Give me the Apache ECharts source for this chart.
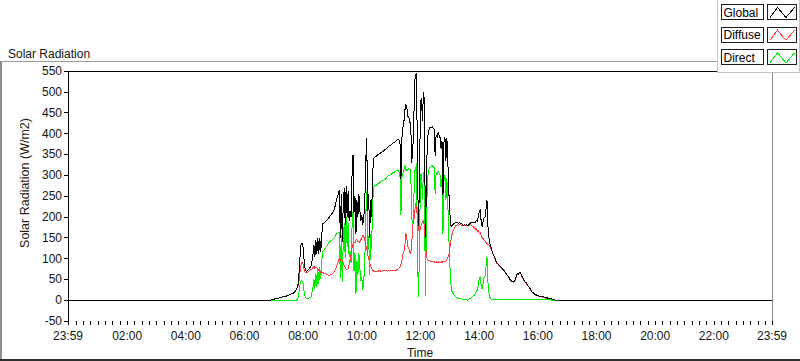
<!DOCTYPE html>
<html><head><meta charset="utf-8">
<script src="https://cdn.jsdelivr.net/npm/echarts@6/dist/echarts.min.js"></script>
<style>html,body{margin:0;padding:0;background:#fff;}#c{width:800px;height:361px;}
#c svg path, #c svg polyline, #c svg rect, #c svg line { shape-rendering: crispEdges; }</style>
</head><body><div id="c"></div>
<script>
const FONT = 'Liberation Sans';
const chartTitle = 'Solar Radiation';
const yAxisName = 'Solar Radiation (W/m2)';
const xAxisName = 'Time';
const seriesNames = ['Global', 'Diffuse', 'Direct'];
const seriesColors = ['#000000', '#ff3c3c', '#00ee00'];
// minutes since midnight; -1 = 23:59 of previous day
const dayStart = -1, dayEnd = 1439;
const nightValue = 0;
const yMin = -50, yMax = 550, yStep = 50;
const xLabelTimes = [-1, 120, 240, 360, 480, 600, 720, 840, 960, 1080, 1200, 1320, 1439];
// samples every 2 minutes from 06:50 to 16:50
const sampleStart = 410, sampleStep = 2;

const globalValues = [
0,0,0,1,1, 2,3,3,4,5, 5,6,7,7,8, 8,9,10,10,11, 12,13,14,15,16, 17,19,22,26,31,
40,74,112,136,138, 125,94,76,70,70, 72,75,78,82,93, 108,132,104,144,110, 149,112,150,116,155,
184,185,187,189,191, 194,197,200,203,206, 210,214,220,228,240, 248,256,264,150,255,
140,230,268,180,275, 200,262,190,215,200, 300,348,210,250,160, 240,200,255,215,190,
205,180,200,230,330, 388,215,255,150,240, 200,300,340,342,344, 346,348,350,352,353,
355,356,358,360,362, 363,366,368,370,371, 373,375,377,378,380, 382,384,386,385,380,
290,390,415,427,455, 470,464,440,441,427, 426,330,356,410,522, 542,545,296,178,290,
475,484,430,500,478, 150,265,388,400,413, 414,415,416,413,410, 347,397,390,402,396,
390,364,381,252,379, 392,334,390,330,260, 210,180,177,181,184, 185,186,186,186,184,
186,184,183,182,180, 181,179,181,180,180, 183,185,186,186,186, 186,186,192,189,200,
210,218,191,176,188, 198,200,218,240,176, 150,135,128,120,112, 108,102,95,90,88,
85,82,80,78,75, 72,70,66,62,60, 57,52,48,46,45, 44,45,50,58,64,
62,66,68,62,56, 52,48,44,42,38, 34,32,28,24,20, 18,16,14,13,12,
11,10,10,9,9, 8,8,7,6,6, 5,5,4,4,3, 2,2,1,0,0, 0,0,0,0,0, 0
];

const diffuseValues = [
0,0,0,1,1, 2,3,3,4,5, 5,6,7,7,8, 8,9,10,10,11, 12,13,14,15,16, 17,19,22,26,31,
34,50,72,88,92, 85,74,68,65,66, 68,70,72,74,75, 78,82,76,80,78, 74,72,70,66,65,
66,65,64,63,62, 61,60,60,61,62, 64,66,70,74,80, 88,94,100,96,98,
96,90,84,78,74, 72,76,86,96,110, 125,136,140,138,144, 145,140,142,138,145,
150,156,152,145,130, 125,110,100,90,82, 76,72,70,68,68, 70,69,70,71,70,
69,70,71,70,72, 71,70,70,71,70, 72,71,70,72,71, 72,73,75,77,80,
85,95,110,115,130, 160,150,128,125,115, 112,130,180,186,210, 232,215,200,170,160,
175,180,188,192,178, 140,105,98,96,95, 94,93,92,93,92, 91,92,90,92,91,
90,92,91,92,94, 92,94,98,102,108, 125,140,155,165,170, 175,178,180,181,180,
182,181,180,179,178, 179,178,180,178,179, 180,181,180,178,176, 174,170,172,165,168,
160,162,155,150,148, 144,142,138,136,134, 132,128,125,118,112, 108,101,94,89,87,
84,81,79,77,74, 71,69,65,61,59, 56,51,47,45,44, 43,44,49,57,63,
61,65,67,61,55, 51,47,43,41,37, 33,31,27,23,19, 17,15,13,12,11,
10,9,9,8,8, 7,7,6,5,5, 4,4,3,3,2, 2,1,1,0,0, 0,0,0,0,0, 0
];

const directValues = [
0,0,0,0,0, 0,0,0,0,0, 0,0,0,0,0, 0,0,0,0,0, 0,0,0,0,0, 0,0,0,0,2,
6,24,40,48,46, 40,20,8,5,4, 4,5,6,8,18, 30,50,28,64,32, 75,40,80,50,90,
118,120,123,126,129, 133,137,140,142,144, 146,148,150,154,160, 160,162,164,54,157,
44,140,184,102,200, 128,186,104,119,90, 175,212,70,112,16, 95,60,113,77,45,
55,24,48,85,200, 262,105,155,60,158, 124,228,270,274,276, 276,279,280,281,283,
286,286,287,290,290, 292,296,298,299,301, 301,304,307,306,309, 310,311,311,308,300,
205,296,305,312,325, 310,314,312,316,312, 314,200,176,224,312, 310,330,96,8,130,
300,304,242,308,300, 10,160,290,304,318, 320,322,324,320,318, 256,305,300,310,305,
300,272,290,160,285, 300,240,292,228,152, 85,40,22,16,14, 10,8,6,5,4,
4,3,3,2,2, 2,1,1,0,1, 3,4,6,8,10, 12,16,20,24,32,
50,56,36,26,40, 54,58,80,104,42, 18,7,3,2,1, 1,1,1,1,1,
1,1,1,1,1, 1,1,1,1,1, 1,1,1,1,1, 1,1,1,1,1,
1,1,1,1,1, 1,1,1,1,1, 1,1,1,1,1, 1,1,1,1,1,
1,1,1,1,1, 1,1,1,1,1, 1,1,1,1,0, 0,0,0,0,0, 0,0,0,0,0, 0
];

function toSeries(vals) {
  const d = [[dayStart, nightValue]];
  vals.forEach((v, i) => d.push([sampleStart + i * sampleStep, v]));
  d.push([dayEnd, nightValue]);
  return d;
}
function fmtTime(v) {
  if (v < 0 || v >= 1439) return '23:59';
  const h = Math.floor(v / 60), m = v % 60;
  return String(h).padStart(2, '0') + ':' + String(m).padStart(2, '0');
}
const tickTimes = [dayStart];
for (let t = 0; t < dayEnd; t += 15) tickTimes.push(t);
tickTimes.push(dayEnd);

const valueSets = [globalValues, diffuseValues, directValues];
const txt = { fontFamily: FONT, fontSize: 12, color: '#141414' };

const legendGraphics = [];
seriesNames.forEach((name, i) => {
  const y0 = 4.5 + i * 22.7;
  legendGraphics.push({ type: 'rect', shape: { x: 721.5, y: y0, width: 42, height: 15 },
    style: { fill: '#fff', stroke: '#1e1e1e', lineWidth: 1 }, z: 101 });
  legendGraphics.push({ type: 'text', style: Object.assign({ text: name, x: 723.5, y: y0 + 8, verticalAlign: 'middle', align: 'left' }, txt), z: 102 });
  legendGraphics.push({ type: 'rect', shape: { x: 767.5, y: y0, width: 29, height: 15 },
    style: { fill: '#fff', stroke: '#1e1e1e', lineWidth: 1 }, z: 101 });
  legendGraphics.push({ type: 'polyline', shape: { points: [[770, y0 + 13], [777.5, y0 + 3], [786, y0 + 13], [794.5, y0 + 3]] },
    style: { stroke: seriesColors[i], lineWidth: 1, fill: null }, z: 102 });
});

const chart = echarts.init(document.getElementById('c'), null, { renderer: 'svg' });
chart.setOption({
  animation: false,
  backgroundColor: '#ffffff',
  textStyle: { fontFamily: FONT },
  title: { text: chartTitle, left: 3, top: 43, textStyle: { fontFamily: FONT, fontSize: 12, fontWeight: 'normal', color: '#141414' } },
  grid: { left: 68, right: 28, top: 71, bottom: 40, containLabel: false, outerBoundsMode: 'none' },
  xAxis: [{
    type: 'value', min: dayStart, max: dayEnd, position: 'bottom',
    name: xAxisName, nameLocation: 'middle', nameGap: 26,
    nameTextStyle: txt,
    axisLine: { show: false, onZero: false }, splitLine: { show: false },
    axisTick: { show: true, length: 4, customValues: tickTimes, lineStyle: { color: '#000' } },
    axisLabel: Object.assign({ customValues: xLabelTimes, formatter: fmtTime, margin: 9, showMinLabel: true, showMaxLabel: true }, txt)
  }, {
    type: 'value', min: dayStart, max: dayEnd, position: 'top',
    axisLine: { show: true, onZero: false, lineStyle: { color: '#000' } }, axisTick: { show: false },
    axisLabel: { show: false }, splitLine: { show: false }
  }],
  yAxis: [{
    type: 'value', min: yMin, max: yMax, interval: yStep,
    name: yAxisName, nameLocation: 'middle', nameGap: 32, nameRotate: 90,
    nameTextStyle: Object.assign({}, txt, { color: '#2a1a10', fontSize: 12.5, padding: [0, 0, 0, 26] }),
    axisLine: { show: true, onZero: false, lineStyle: { color: '#000' } },
    axisTick: { show: true, length: 4, lineStyle: { color: '#000' } },
    axisLabel: Object.assign({ margin: 6 }, txt),
    splitLine: { show: false }
  }, {
    type: 'value', min: yMin, max: yMax, position: 'right',
    axisLine: { show: true, onZero: false, lineStyle: { color: '#8c8c8c' } }, axisTick: { show: false },
    axisLabel: { show: false }, splitLine: { show: false }
  }],
  series: [2, 1, 0].map(i => ({
    name: seriesNames[i], type: 'line', xAxisIndex: 0, yAxisIndex: 0,
    data: toSeries(valueSets[i]), showSymbol: false, symbol: 'none',
    lineStyle: { color: seriesColors[i], width: 1 }, itemStyle: { color: seriesColors[i] },
    emphasis: { disabled: true }
  })),
  graphic: [
    { type: 'rect', shape: { x: 0, y: 61, width: 717, height: 1 }, style: { fill: '#9a9a9a' }, z: 50 },
    { type: 'rect', shape: { x: 0, y: 61, width: 2, height: 299 }, style: { fill: '#8f8f8f' }, z: 50 },
    { type: 'rect', shape: { x: 0, y: 359, width: 800, height: 2 }, style: { fill: '#2e2e2e' }, z: 50 },
    { type: 'rect', shape: { x: 717.5, y: -1, width: 82, height: 73.5 }, style: { fill: '#ffffff', stroke: '#c4c4c4', lineWidth: 1 }, z: 100 }
  ].concat(legendGraphics)
});
</script></body></html>
